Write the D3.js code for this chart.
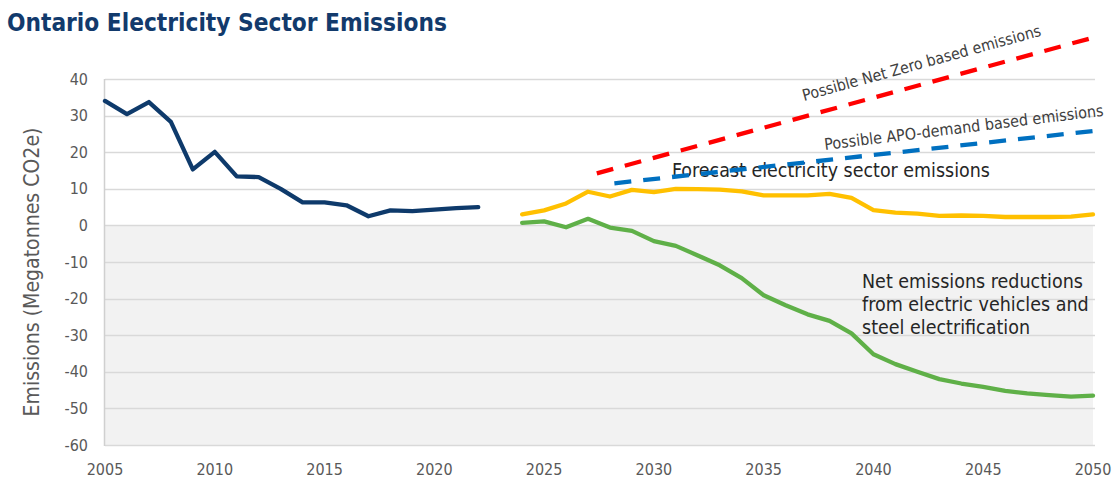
<!DOCTYPE html>
<html>
<head>
<meta charset="utf-8">
<script src="https://cdn.jsdelivr.net/npm/d3@7"></script>
<style>
  html, body { margin: 0; padding: 0; background: #ffffff; }
  svg { display: block; }
</style>
</head>
<body>
<svg id="chart" width="1115" height="478"></svg>
<script>
// ---------------- data ----------------
const title = "Ontario Electricity Sector Emissions";
const yAxisTitle = "Emissions (Megatonnes CO2e)";
const yTicks = [40, 30, 20, 10, 0, -10, -20, -30, -40, -50, -60];
const xTicks = [2005, 2010, 2015, 2020, 2025, 2030, 2035, 2040, 2045, 2050];

const histYears = [2005, 2006, 2007, 2008, 2009, 2010, 2011, 2012, 2013, 2014, 2015, 2016, 2017, 2018, 2019, 2020, 2021, 2022];
const historical = [34.0, 30.4, 33.7, 28.3, 15.3, 20.1, 13.4, 13.2, 10.0, 6.3, 6.3, 5.5, 2.5, 4.1, 3.9, 4.3, 4.7, 5.0];

const forecastYears = [2024, 2025, 2026, 2027, 2028, 2029, 2030, 2031, 2032, 2033, 2034, 2035, 2036, 2037, 2038, 2039, 2040, 2041, 2042, 2043, 2044, 2045, 2046, 2047, 2048, 2049, 2050];
const forecast = [3.0, 4.1, 6.0, 9.2, 7.9, 9.7, 9.1, 10.0, 9.9, 9.8, 9.3, 8.2, 8.2, 8.2, 8.6, 7.5, 4.2, 3.5, 3.2, 2.6, 2.7, 2.6, 2.3, 2.3, 2.3, 2.4, 3.0];
const netReductions = [0.7, 1.1, -0.5, 1.8, -0.6, -1.5, -4.3, -5.6, -8.2, -10.9, -14.4, -19.1, -21.8, -24.3, -26.1, -29.5, -35.2, -37.9, -40.0, -42.0, -43.2, -44.1, -45.2, -45.9, -46.4, -46.8, -46.5];

const netZeroYears = [2027.4, 2050];
const netZero = [14.2, 51.3];
const apoYears = [2028.2, 2050];
const apoDemand = [11.5, 25.8];

const forecastLabel = "Forecast electricity sector emissions";
const netLabel = ["Net emissions reductions", "from electric vehicles and", "steel electrification"];
const netZeroLabel = "Possible Net Zero based emissions";
const apoLabel = "Possible APO-demand based emissions";

// ---------------- layout ----------------
const svg = d3.select("#chart");
const x = d3.scaleLinear().domain([2005, 2050]).range([105, 1093]);
const y = d3.scaleLinear().domain([-60, 40]).range([445, 79]);
const FONT = "'DejaVu Sans Condensed', 'DejaVu Sans', sans-serif";

function fitWidth(sel, target) {
  const w = sel.node().getComputedTextLength();
  const fs = parseFloat(sel.attr("font-size"));
  sel.attr("font-size", (fs * target / w).toFixed(2));
}

// grey area below zero
svg.append("rect")
  .attr("x", x(2005)).attr("y", y(0))
  .attr("width", x(2050) - x(2005)).attr("height", y(-60) - y(0))
  .attr("fill", "#f2f2f2");

// gridlines
svg.append("g").selectAll("line").data(yTicks).join("line")
  .attr("x1", x(2005)).attr("x2", x(2050) + 2)
  .attr("y1", d => Math.round(y(d)) + 0.5).attr("y2", d => Math.round(y(d)) + 0.5)
  .attr("stroke", "#d9d9d9").attr("stroke-width", 1.3);

// left axis line
svg.append("line")
  .attr("x1", x(2005) - 0.5).attr("x2", x(2005) - 0.5)
  .attr("y1", y(40)).attr("y2", y(-60) + 1)
  .attr("stroke", "#d0d0d0").attr("stroke-width", 1.5);

// y tick labels
svg.append("g").selectAll("text").data(yTicks).join("text")
  .attr("x", 88).attr("y", d => y(d) + 5.5)
  .attr("text-anchor", "end")
  .attr("font-family", FONT).attr("font-size", 16)
  .attr("fill", "#595959")
  .text(d => d);

// x tick labels
svg.append("g").selectAll("text").data(xTicks).join("text")
  .attr("x", d => x(d)).attr("y", 475)
  .attr("text-anchor", "middle")
  .attr("font-family", FONT).attr("font-size", 16)
  .attr("fill", "#595959")
  .text(d => d);

// y axis title
const yt = svg.append("text")
  .attr("transform", "translate(39,272) rotate(-90)")
  .attr("text-anchor", "middle")
  .attr("font-family", FONT).attr("font-size", 18)
  .attr("fill", "#595959")
  .text(yAxisTitle);
fitWidth(yt, 289);

// title
const tt = svg.append("text")
  .attr("x", 7).attr("y", 31)
  .attr("font-family", FONT).attr("font-weight", "bold").attr("font-size", 22)
  .attr("fill", "#123a6c")
  .text(title);
fitWidth(tt, 440);

// annotation: forecast
const ft = svg.append("text")
  .attr("x", 672).attr("y", 177)
  .attr("font-family", FONT).attr("font-size", 18)
  .attr("fill", "#262626")
  .text(forecastLabel);
fitWidth(ft, 318);

// lines
const line = d3.line().x(d => x(d[0])).y(d => y(d[1]));
function drawSeries(years, vals, color, width, dash) {
  const p = svg.append("path")
    .datum(years.map((yr, i) => [yr, vals[i]]))
    .attr("d", line)
    .attr("fill", "none")
    .attr("stroke", color)
    .attr("stroke-width", width)
    .attr("stroke-linejoin", "round")
    .attr("stroke-linecap", dash ? "butt" : "round");
  if (dash) p.attr("stroke-dasharray", dash);
}
drawSeries(histYears, historical, "#0e3a6b", 4.3, null);
drawSeries(forecastYears, forecast, "#ffc000", 4.3, null);
drawSeries(forecastYears, netReductions, "#5fb048", 4.3, null);
drawSeries(netZeroYears, netZero, "#ff0000", 4.3, "17,12");
drawSeries(apoYears, apoDemand, "#0070c0", 4.3, "17,12");

// net reductions label
const nl = svg.append("text")
  .attr("font-family", FONT).attr("font-size", 17)
  .attr("fill", "#262626");
nl.selectAll("tspan").data(netLabel).join("tspan")
  .attr("x", 862).attr("y", (d, i) => 288 + i * 23)
  .text(d => d);
{
  const first = nl.select("tspan").node();
  const w = first.getComputedTextLength();
  nl.attr("font-size", (17 * 221 / w).toFixed(2));
}

// rotated labels
const nz = svg.append("text")
  .attr("transform", "translate(804,101) rotate(-15.4)")
  .attr("font-family", FONT).attr("font-size", 13)
  .attr("fill", "#404040")
  .text(netZeroLabel);
fitWidth(nz, 247);

const ap = svg.append("text")
  .attr("transform", "translate(825,150) rotate(-7)")
  .attr("font-family", FONT).attr("font-size", 13)
  .attr("fill", "#404040")
  .text(apoLabel);
fitWidth(ap, 281);
</script>
</body>
</html>
